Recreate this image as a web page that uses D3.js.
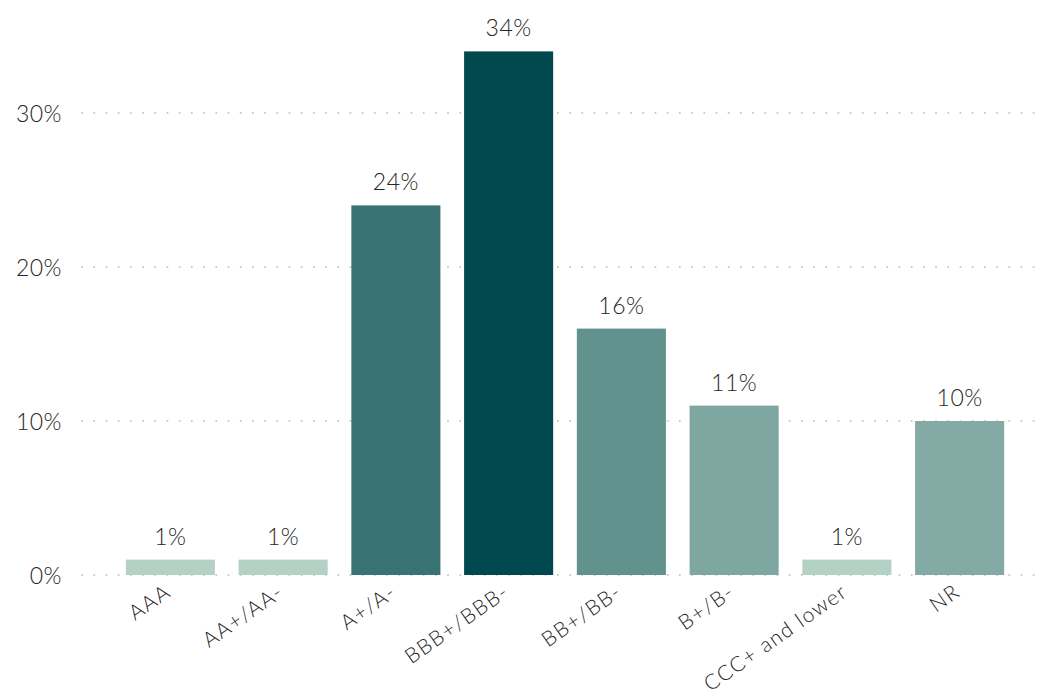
<!DOCTYPE html>
<html>
<head>
<meta charset="utf-8">
<script src="https://cdn.jsdelivr.net/npm/d3@7"></script>
<style>
  html, body { margin: 0; padding: 0; background: #ffffff; }
  svg text { font-family: "Century Gothic", "Lato", "Noto Sans", sans-serif; font-weight: 300; fill: #262626; }
</style>
</head>
<body>
<svg id="chart" width="1060" height="695"></svg>
<script>
// Rating buckets and their share of the portfolio (%)
const categories = ["AAA", "AA+/AA-", "A+/A-", "BBB+/BBB-", "BB+/BB-", "B+/B-", "CCC+ and lower", "NR"];
const shares = [1, 1, 24, 34, 16, 11, 1, 10];
const barColors = ["#b3d1c5", "#b3d1c5", "#3a7373", "#02484f", "#62928d", "#7ea7a2", "#b3d1c5", "#84aaa6"];
const yTicks = [0, 10, 20, 30];

const svg = d3.select("#chart");
const plot = { left: 80, right: 1040, bottom: 575 };
const fontStack = '"Century Gothic", "Lato", "Noto Sans", sans-serif';
const textColor = "#262626";

const x = d3.scaleBand()
  .domain(categories)
  .range([114, 1016])
  .paddingInner(0.21)
  .paddingOuter(0.105);

const y = d3.scaleLinear()
  .domain([0, 10])
  .range([plot.bottom, plot.bottom - 154]);

// Dotted horizontal gridlines
svg.append("g")
  .selectAll("line")
  .data(yTicks)
  .join("line")
  .attr("x1", plot.left + 2)
  .attr("x2", plot.right)
  .attr("y1", d => y(d))
  .attr("y2", d => y(d))
  .attr("stroke", "#c8c8c8")
  .attr("stroke-width", 2)
  .attr("stroke-linecap", "round")
  .attr("stroke-dasharray", "0.1 12.1");

// Y axis labels
const yAxis = d3.axisLeft(y)
  .tickValues(yTicks)
  .tickSize(0)
  .tickPadding(0)
  .tickFormat(d => d + "%");
svg.append("g")
  .attr("transform", "translate(62,0)")
  .call(yAxis)
  .call(g => g.select(".domain").remove())
  .call(g => g.selectAll("text")
    .attr("font-size", 23)
    .attr("fill", textColor)
    .attr("dy", "0.36em")
    .attr("letter-spacing", 0.5)
    .style("font-family", fontStack)
    .style("font-weight", 300));

// Bars
svg.append("g")
  .selectAll("rect")
  .data(categories)
  .join("rect")
  .attr("x", d => x(d))
  .attr("width", x.bandwidth())
  .attr("y", (d, i) => y(shares[i]))
  .attr("height", (d, i) => y(0) - y(shares[i]))
  .attr("fill", (d, i) => barColors[i]);

// Value labels above bars
svg.append("g")
  .selectAll("text")
  .data(categories)
  .join("text")
  .attr("x", d => x(d) + x.bandwidth() / 2)
  .attr("y", (d, i) => y(shares[i]) - 15)
  .attr("text-anchor", "middle")
  .attr("font-size", 23)
  .attr("letter-spacing", 0.5)
  .text((d, i) => shares[i] + "%");

// X axis labels, rotated
const xAxis = d3.axisBottom(x).tickSize(0).tickPadding(0);
svg.append("g")
  .attr("transform", `translate(0,${plot.bottom})`)
  .call(xAxis)
  .call(g => g.select(".domain").remove())
  .call(g => g.selectAll("text")
    .attr("font-size", 21)
    .attr("fill", textColor)
    .attr("text-anchor", "end")
    .attr("letter-spacing", 1.4)
    .attr("dy", null)
    .attr("y", 0)
    .attr("transform", "translate(2,20) rotate(-35)")
    .style("font-family", fontStack)
    .style("font-weight", 300));
</script>
</body>
</html>
